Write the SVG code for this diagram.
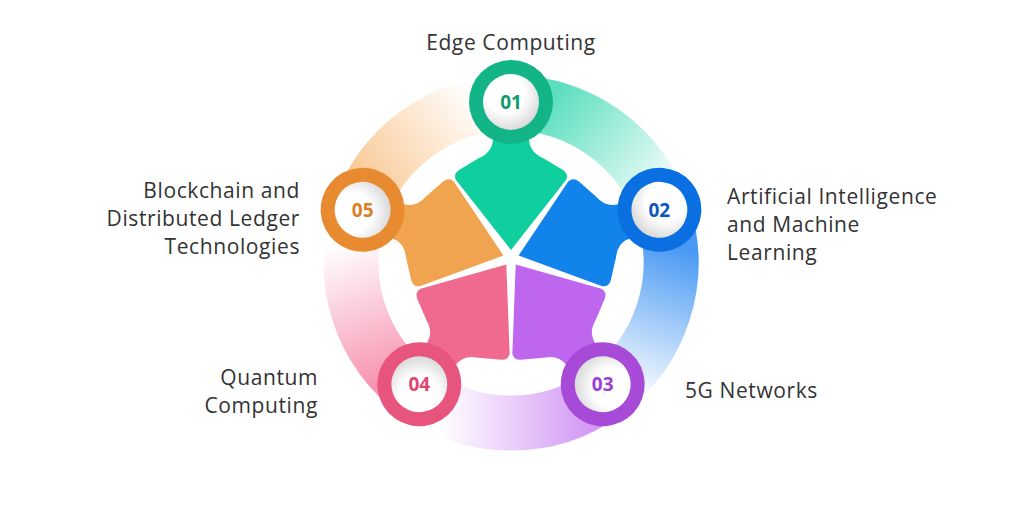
<svg xmlns="http://www.w3.org/2000/svg" width="1024" height="505" viewBox="0 0 1024 505">
<style>
.lbl{font-family:"Open Sans","Noto Sans",sans-serif;font-size:21px;letter-spacing:0.6px;fill:#333}
.num{font-family:"Open Sans","Noto Sans",sans-serif;font-size:19px;font-weight:700;text-anchor:middle}
.arc{fill:none;stroke-width:55}
</style>
<defs>
<radialGradient id="w" cx="0.4" cy="0.35" r="0.7"><stop offset="0.5" stop-color="#fff"/><stop offset="1" stop-color="#d6d6d6"/></radialGradient>
<linearGradient id="g1" gradientUnits="userSpaceOnUse" x1="540" y1="110" x2="663" y2="213"><stop offset="0" stop-color="#14d0a4" stop-opacity="0.7"/><stop offset="1" stop-color="#14d0a4" stop-opacity="0"/></linearGradient>
<linearGradient id="g2" gradientUnits="userSpaceOnUse" x1="663" y1="240" x2="610" y2="390"><stop offset="0" stop-color="#1a7ff0" stop-opacity="0.8"/><stop offset="1" stop-color="#1a7ff0" stop-opacity="0"/></linearGradient>
<linearGradient id="g3" gradientUnits="userSpaceOnUse" x1="590" y1="420" x2="440" y2="420"><stop offset="0" stop-color="#c06ef0" stop-opacity="0.7"/><stop offset="1" stop-color="#c06ef0" stop-opacity="0"/></linearGradient>
<linearGradient id="g4" gradientUnits="userSpaceOnUse" x1="400" y1="380" x2="350" y2="240"><stop offset="0" stop-color="#f3628c" stop-opacity="0.7"/><stop offset="1" stop-color="#f3628c" stop-opacity="0"/></linearGradient>
<linearGradient id="g5" gradientUnits="userSpaceOnUse" x1="360" y1="190" x2="480" y2="100"><stop offset="0" stop-color="#f5a24a" stop-opacity="0.6"/><stop offset="1" stop-color="#f5a24a" stop-opacity="0"/></linearGradient>
<path id="piece" d="M0,-8 L-55,-78 Q-58,-84 -52,-88 L-32,-100 Q-18,-106 -18,-120 L-18,-140 L18,-140 L18,-120 Q18,-106 32,-100 L52,-88 Q58,-84 55,-78 Z"/>
</defs>
<g id="connectors">
<path class="arc" stroke="url(#g1)" d="M511,103 A160,160 0 0 1 663.2,213.6"/>
<path class="arc" stroke="url(#g2)" d="M663.2,213.6 A160,160 0 0 1 605.1,392.4"/>
<path class="arc" stroke="url(#g3)" d="M605.1,392.4 A160,160 0 0 1 416.9,392.4"/>
<path class="arc" stroke="url(#g4)" d="M416.9,392.4 A160,160 0 0 1 358.8,213.6"/>
<path class="arc" stroke="url(#g5)" d="M358.8,213.6 A160,160 0 0 1 511,103"/>
</g>
<g id="n1" transform="translate(511,258)">
<use href="#piece" fill="#0fcf9f"/><circle cy="-156" r="42" fill="#12b488"/><circle cy="-156" r="28" fill="url(#w)"/>
<text class="num" y="-149" fill="#0f9a72">01</text></g>
<g id="n2" transform="translate(511,258) rotate(72)">
<use href="#piece" fill="#1283ea"/><circle cy="-156" r="42" fill="#0a6fe0"/><circle cy="-156" r="28" fill="url(#w)"/>
<text class="num" y="-149" fill="#0b58c0" transform="rotate(-72 0 -156)">02</text></g>
<g id="n3" transform="translate(511,258) rotate(144)">
<use href="#piece" fill="#bf66ee"/><circle cy="-156" r="42" fill="#a84ad8"/><circle cy="-156" r="28" fill="url(#w)"/>
<text class="num" y="-149" fill="#9a3fd0" transform="rotate(-144 0 -156)">03</text></g>
<g id="n4" transform="translate(511,258) rotate(216)">
<use href="#piece" fill="#f06a90"/><circle cy="-156" r="42" fill="#e8557c"/><circle cy="-156" r="28" fill="url(#w)"/>
<text class="num" y="-149" fill="#e0456f" transform="rotate(-216 0 -156)">04</text></g>
<g id="n5" transform="translate(511,258) rotate(288)">
<use href="#piece" fill="#f0a450"/><circle cy="-156" r="42" fill="#e88a30"/><circle cy="-156" r="28" fill="url(#w)"/>
<text class="num" y="-149" fill="#d9802a" transform="rotate(-288 0 -156)">05</text></g>
<g id="labels">
<text class="lbl" x="511" y="50" text-anchor="middle">Edge Computing</text>
<text class="lbl" x="727" y="204">Artificial Intelligence</text>
<text class="lbl" x="727" y="232">and Machine</text>
<text class="lbl" x="727" y="260">Learning</text>
<text class="lbl" x="685" y="398">5G Networks</text>
<text class="lbl" x="318" y="385" text-anchor="end">Quantum</text>
<text class="lbl" x="318" y="413" text-anchor="end">Computing</text>
<text class="lbl" x="300" y="198" text-anchor="end">Blockchain and</text>
<text class="lbl" x="300" y="226" text-anchor="end">Distributed Ledger</text>
<text class="lbl" x="300" y="254" text-anchor="end">Technologies</text>
</g>
</svg>
